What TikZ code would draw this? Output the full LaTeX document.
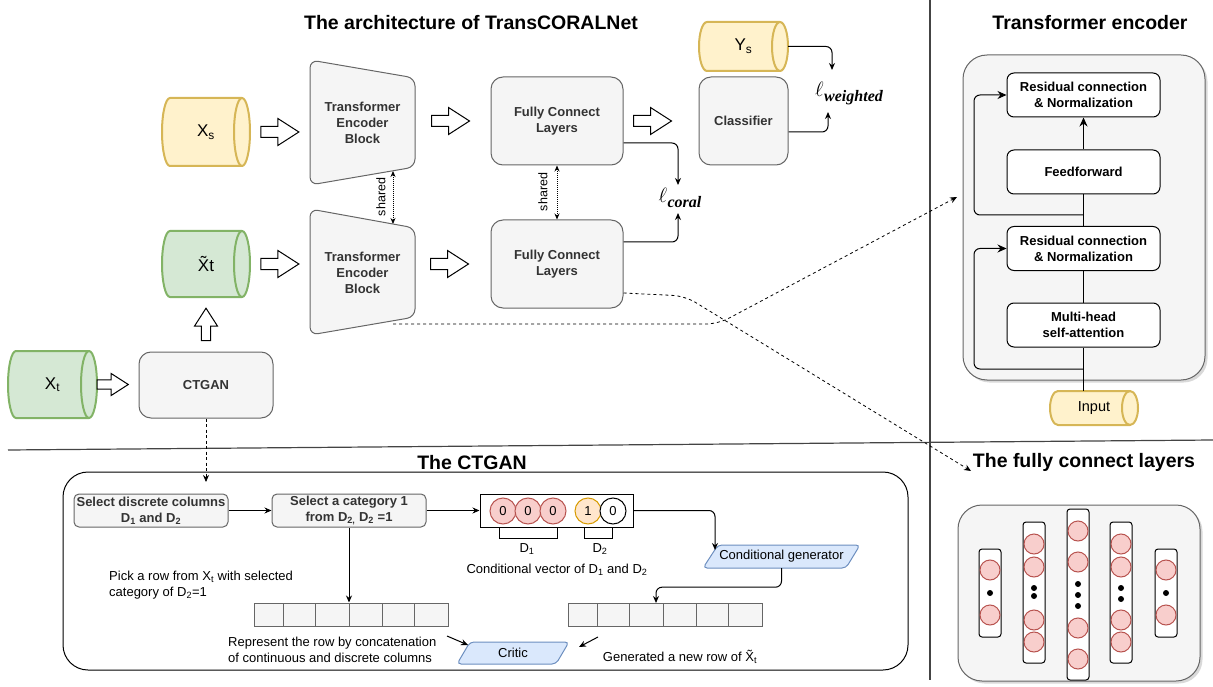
\documentclass[tikz,border=0pt]{standalone}
\usepackage{amsmath}
\usepackage{fontspec}
\setmainfont{Liberation Sans}
\newfontfamily\lossfont{Liberation Serif}
\usetikzlibrary{arrows.meta,calc,shadows}

\definecolor{gfill}{HTML}{F5F5F5}
\definecolor{gline}{HTML}{666666}
\definecolor{gtext}{HTML}{333333}
\definecolor{yfill}{HTML}{FFF2CC}
\definecolor{yline}{HTML}{D6B656}
\definecolor{grfill}{HTML}{D5E8D4}
\definecolor{grline}{HTML}{82B366}
\definecolor{bfill}{HTML}{DAE8FC}
\definecolor{bline}{HTML}{6C8EBF}
\definecolor{rfill}{HTML}{F8CECC}
\definecolor{rline}{HTML}{B85450}
\definecolor{ofill}{HTML}{FFE6CC}
\definecolor{oline}{HTML}{D79B00}
\definecolor{sepline}{HTML}{444444}

% horizontal cylinder: x1, y1, x2, y2, y-radius, fill, stroke
\newcommand\hcyl[7]{%
  \path[fill=#6, draw=#7, line width=2pt] (#1+8,#2) -- (#3-8,#2)
    arc[start angle=90, end angle=-90, x radius=8pt, y radius=#5pt]
    -- (#1+8,#4)
    arc[start angle=-90, end angle=-270, x radius=8pt, y radius=#5pt] -- cycle;
  \draw[#7, line width=2pt] (#3-8,#2)
    arc[start angle=90, end angle=270, x radius=8pt, y radius=#5pt];
}
% loss symbol with a bold italic serif subscript
\newcommand\losssym[1]{$\ell$\kern0.5pt\raisebox{-5pt}{\lossfont\bfseries\itshape\fontsize{16}{18}\selectfont #1}}

\tikzset{
  gbox/.style={draw=gline, fill=gfill, line width=1pt, rounded corners=12pt, text=gtext,
    font=\bfseries\fontsize{13}{16}\selectfont, align=center, inner sep=0pt},
  tbox/.style={draw=black, fill=white, line width=1pt, rounded corners=7pt,
    font=\bfseries\fontsize{13}{16}\selectfont, align=center, inner sep=0pt,
    minimum width=153pt, minimum height=44pt},
  sbox/.style={draw=gline, fill=gfill, line width=1pt, rounded corners=5pt, text=gtext,
    font=\bfseries\fontsize{13}{16}\selectfont, align=center, inner sep=0pt,
    minimum width=154pt, minimum height=33pt},
  lab/.style={inner sep=0pt, font=\fontsize{13}{16}\selectfont, align=left},
  ttl/.style={inner sep=0pt, font=\bfseries\fontsize{19.5}{22}\selectfont},
  cyltext/.style={inner sep=0pt, font=\fontsize{17}{20}\selectfont},
  losstext/.style={inner sep=0pt, font=\fontsize{20}{24}\selectfont},
  sharedtext/.style={rotate=90, inner sep=0pt, font=\fontsize{12.5}{14}\selectfont},
  arr/.style={draw=black, line width=1pt, rounded corners=6pt, -{Stealth[length=7pt,width=6pt]}},
  bigarr/.style={draw=black, line width=1pt, rounded corners=6pt, -{Stealth[length=9pt,width=8pt]}},
  plain/.style={draw=black, line width=1pt},
  dsh/.style={draw=black, line width=0.8pt, dash pattern=on 3pt off 3pt, rounded corners=12pt,
    -{Stealth[length=7pt,width=6pt]}},
  shr/.style={draw=black, line width=0.8pt, dash pattern=on 1pt off 1pt,
    {Stealth[length=6pt,width=5pt]}-{Stealth[length=6pt,width=5pt]}},
  neuron/.style={circle, draw=rline, fill=rfill, line width=1pt, minimum size=20pt, inner sep=0pt},
  bit/.style={circle, line width=1pt, minimum size=26pt, inner sep=0pt, font=\fontsize{13}{15}\selectfont},
  layer/.style={draw=black, fill=white, line width=1pt, rounded corners=3pt, minimum width=22pt, inner sep=0pt},
  panel/.style={draw=gline, fill=gfill, line width=1pt, rounded corners=24pt, inner sep=0pt,
    drop shadow={shadow xshift=2.5pt, shadow yshift=-2.5pt, opacity=0.3}},
  cellrow/.style={draw=gline, fill=gfill, line width=1pt, inner sep=0pt, minimum width=194pt, minimum height=23pt},
  pics/harrow/.style={code={
    \draw[line width=1pt, fill=white, line join=miter]
      (-19,-5.5) -- (-2,-5.5) -- (-2,-13.5) -- (19,0) -- (-2,13.5) -- (-2,5.5) -- (-19,5.5) -- cycle;}},
}

\begin{document}
\begin{tikzpicture}[x=1pt,y=-1pt]
\useasboundingbox (0,0) rectangle (1213,687);

% ---------- section frames ----------
\draw[sepline, line width=1.2pt] (8,450) -- (1213,440);
\draw[sepline, line width=1.2pt] (930,0) -- (930,680);

% ---------- titles ----------
\node[ttl] (t1) at (471,23) {The architecture of TransCORALNet};
\node[ttl] (t2) at (1090,23) {Transformer encoder};
\node[ttl] (t3) at (472,463) {The CTGAN};
\node[ttl] (t4) at (1084,462) {The fully connect layers};

% ---------- TransCORALNet ----------
\hcyl{162}{98}{250}{166}{34}{yfill}{yline}
\node[cyltext, minimum width=88pt, minimum height=68pt] (xs) at (206,132) {X\textsubscript{s}};
\hcyl{162}{231}{250}{297}{33}{grfill}{grline}
\node[cyltext, minimum width=88pt, minimum height=66pt] (xt2) at (206,264) {\~{X}t};
\hcyl{8}{351}{97}{418}{33.5}{grfill}{grline}
\node[cyltext, minimum width=89pt, minimum height=67pt] (xt) at (52.5,384.5) {X\textsubscript{t}};
\hcyl{699}{22}{788}{71}{24.5}{yfill}{yline}
\node[cyltext, minimum width=89pt, minimum height=49pt] (ys) at (743.5,46.5) {Y\textsubscript{s}};

% encoder blocks (trapezoids)
\draw[gline, fill=gfill, line width=1pt, rounded corners=8pt]
  (310,60) -- (415,78) -- (415,167) -- (310,185) -- cycle;
\node[gbox, draw=none, fill=none, minimum width=105pt, minimum height=125pt] (teb1) at (362.5,122.5)
  {Transformer\\Encoder\\Block};
\draw[gline, fill=gfill, line width=1pt, rounded corners=8pt]
  (310,209) -- (415,228) -- (415,317) -- (310,335) -- cycle;
\node[gbox, draw=none, fill=none, minimum width=105pt, minimum height=126pt] (teb2) at (362.5,273)
  {Transformer\\Encoder\\Block};

\node[gbox, minimum width=132pt, minimum height=88pt] (fc1) at (557,121) {Fully Connect\\Layers};
\node[gbox, minimum width=132pt, minimum height=88pt] (fc2) at (557,264) {Fully Connect\\Layers};
\node[gbox, minimum width=89pt, minimum height=88pt] (cls) at (743.5,121) {Classifier};
\node[gbox, minimum width=134pt, minimum height=66pt] (ctgan) at (206,385) {CTGAN};

% hollow block arrows
\pic at ($(xs.east)!0.5!(xs.east -| teb1.west)$) {harrow};
\pic at ($(xt2.east)!0.5!(xt2.east -| teb2.west)$) {harrow};
\pic at ($(fc1.west)+(-40,0)$) {harrow};
\pic at ($(fc2.west)+(-41,0)$) {harrow};
\pic at ($(cls.west)+(-46,0)$) {harrow};
\pic[scale=0.82] at ($(xt.east)+(15.5,0)$) {harrow};
\pic[rotate=90, scale=0.85] at ($(ctgan.north)!0.5!(xt2.south)$) {harrow};

% shared weights
\coordinate (sha) at (393,171);
\coordinate (shb) at (393,224);
\draw[shr] (sha) -- (shb);
\node[sharedtext] (shl1) at (381,197) {shared};
\draw[shr] (fc1.south) -- (fc2.north);
\node[sharedtext] (shl2) at (543,192) {shared};

% losses
\node[losstext] (lw) at (849,94) {\losssym{weighted}};
\node[losstext] (lc) at (680,198) {\losssym{coral}};
\coordinate (lwa) at (832,70);
\coordinate (lwb) at (828,112);
\coordinate (lca) at (678,185);
\coordinate (lcb) at (678,213);
\draw[arr] (ys.east) -| (lwa);
\draw[arr] ($(cls.east)+(0,11)$) -| (lwb);
\draw[arr] ($(fc1.east)+(0,22)$) -| (lca);
\draw[arr] ($(fc2.east)+(0,-22)$) -| (lcb);

% links to the detail views
\coordinate (d1s) at (393,324);
\coordinate (d1e) at (957,197);
\draw[dsh] (d1s) -- (718,324) -- (d1e);
\coordinate (d2e) at (971,471);
\draw[dsh] ($(fc2.east)+(0,29)$) -- (685,296) -- (d2e);
\coordinate (cte) at (206,482);
\draw[dsh, dash pattern=on 3pt off 2.5pt] (ctgan.south) -- (cte);

% ---------- Transformer encoder ----------
\node[panel, minimum width=242pt, minimum height=325pt] (tep) at (1084,217.5) {};
\node[tbox] (res1) at (1083.5,95) {Residual connection\\\& Normalization};
\node[tbox] (ff) at (1083.5,172) {Feedforward};
\node[tbox] (res2) at (1083.5,248.5) {Residual connection\\\& Normalization};
\node[tbox] (mh) at (1083.5,325) {Multi-head\\self-attention};
\hcyl{1050}{391}{1138}{425}{17}{yfill}{yline}
\node[inner sep=0pt, font=\fontsize{14.5}{17}\selectfont, minimum width=88pt, minimum height=34pt] (inp) at (1094,408) {Input};

\draw[plain] (inp.north -| mh.south) -- (mh.south);
\draw[bigarr] (mh.south |- 0,369) -| (974,248.5) -- (res2.west);
\draw[plain] (mh.north) -- (res2.south);
\draw[plain] (res2.north) -- (ff.south);
\draw[bigarr] (res2.north |- 0,215) -| (974,95) -- (res1.west);
\draw[bigarr] (ff.north) -- (res1.south);

% ---------- CTGAN ----------
\node[draw=black, line width=1pt, rounded corners=25pt, inner sep=0pt,
  minimum width=845pt, minimum height=198pt] (ctp) at (485.5,571) {};
\node[sbox] (sel1) at (151,510.5) {Select discrete columns\\D\textsubscript{1} and D\textsubscript{2}};
\node[sbox] (sel2) at (349,510.5) {Select a category 1\\from D\textsubscript{2,} D\textsubscript{2} =1};
\node[draw=black, line width=1pt, fill=white, inner sep=0pt, minimum width=153pt, minimum height=33pt] (vec) at (556.5,510.5) {};
\node[bit, draw=rline, fill=rfill] (b1) at (503,511) {0};
\node[bit, draw=rline, fill=rfill] (b2) at (528,511) {0};
\node[bit, draw=rline, fill=rfill] (b3) at (553,511) {0};
\node[bit, draw=oline, fill=ofill] (b4) at (588,511) {1};
\node[bit, draw=black, fill=white] (b5) at (613,511) {0};
\draw[plain] (499,527) -- (499,538) -- (557,538) -- (557,527);
\draw[plain] (584,527) -- (584,538) -- (612,538) -- (612,527);
\node[lab] (dl1) at (527,549) {D\textsubscript{1}};
\node[lab] (dl2) at (600,549) {D\textsubscript{2}};
\node[lab] (cvl) at (557,570) {Conditional vector of D\textsubscript{1} and D\textsubscript{2}};

\draw[arr] (sel1.east) -- (sel2.west);
\draw[arr] (sel2.east) -- (vec.west);

% conditional generator
\draw[bline, fill=bfill, line width=1pt, rounded corners=4pt]
  (718,545) -- (860,545) -- (846,568) -- (703,568) -- cycle;
\node[lab, minimum width=157pt, minimum height=23pt, align=center] (cg) at (781.5,556.5) {Conditional generator};
\coordinate (cgin) at (715,550);
\draw[arr] (vec.east) -| (cgin);

% sampled real row and generated row
\node[cellrow] (row1) at (351,614.5) {};
\foreach \x in {283,315,349,382,414} \draw[gline, line width=1pt] (\x,603) -- (\x,626);
\node[cellrow] (row2) at (665,614.5) {};
\foreach \x in {597,629,663,696,728} \draw[gline, line width=1pt] (\x,603) -- (\x,626);

\draw[arr] (sel2.south) -- (sel2.south |- row1.north);
\coordinate (r2in) at (656,603);
\draw[arr] (cg.south) -- ++(0,19) -| (r2in);

\node[lab, anchor=west] (pick) at (109,585) {Pick a row from X\textsubscript{t} with selected\\category of D\textsubscript{2}=1};
\node[lab, anchor=west] (repr) at (228,650) {Represent the row by concatenation\\of continuous and discrete columns};
\node[lab] (gen) at (680,657) {Generated a new row of \~{X}\textsubscript{t}};

% critic
\draw[bline, fill=bfill, line width=1pt, rounded corners=4pt]
  (470,642) -- (569,642) -- (556,664) -- (457,664) -- cycle;
\node[lab, minimum width=112pt, minimum height=22pt, align=center] (critic) at (513,653) {Critic};
\coordinate (sa1) at (447,636);
\coordinate (sa1e) at (468,645);
\draw[arr] (sa1) -- (sa1e);
\coordinate (sa2) at (598,637);
\coordinate (sa2e) at (579,647);
\draw[arr] (sa2) -- (sa2e);

% ---------- fully connected layers ----------
\node[panel, minimum width=242pt, minimum height=176pt] (fcp) at (1079,593) {};
\node[layer, minimum height=88pt] (l1) at (990,593) {};
\node[layer, minimum height=141pt] (l2) at (1034,592.5) {};
\node[layer, minimum height=171pt] (l3) at (1078,594.5) {};
\node[layer, minimum height=141pt] (l4) at (1121,592.5) {};
\node[layer, minimum height=88pt] (l5) at (1166,593) {};
\foreach \y in {570,615} {\node[neuron] at (990,\y) {}; \node[neuron] at (1166,\y) {};}
\foreach \y in {544,567,620,642} {\node[neuron] at (1034,\y) {}; \node[neuron] at (1121,\y) {};}
\foreach \y in {531,562,628,659} \node[neuron] at (1078,\y) {};
\foreach \y in {593} {\fill (990,\y) circle[radius=3pt]; \fill (1166,\y) circle[radius=3pt];}
\foreach \y in {588,596} \fill (1034,\y) circle[radius=3pt];
\foreach \y in {588,599} \fill (1121,\y) circle[radius=3pt];
\foreach \y in {584,595,606} \fill (1078,\y) circle[radius=3pt];

\end{tikzpicture}
\end{document}
